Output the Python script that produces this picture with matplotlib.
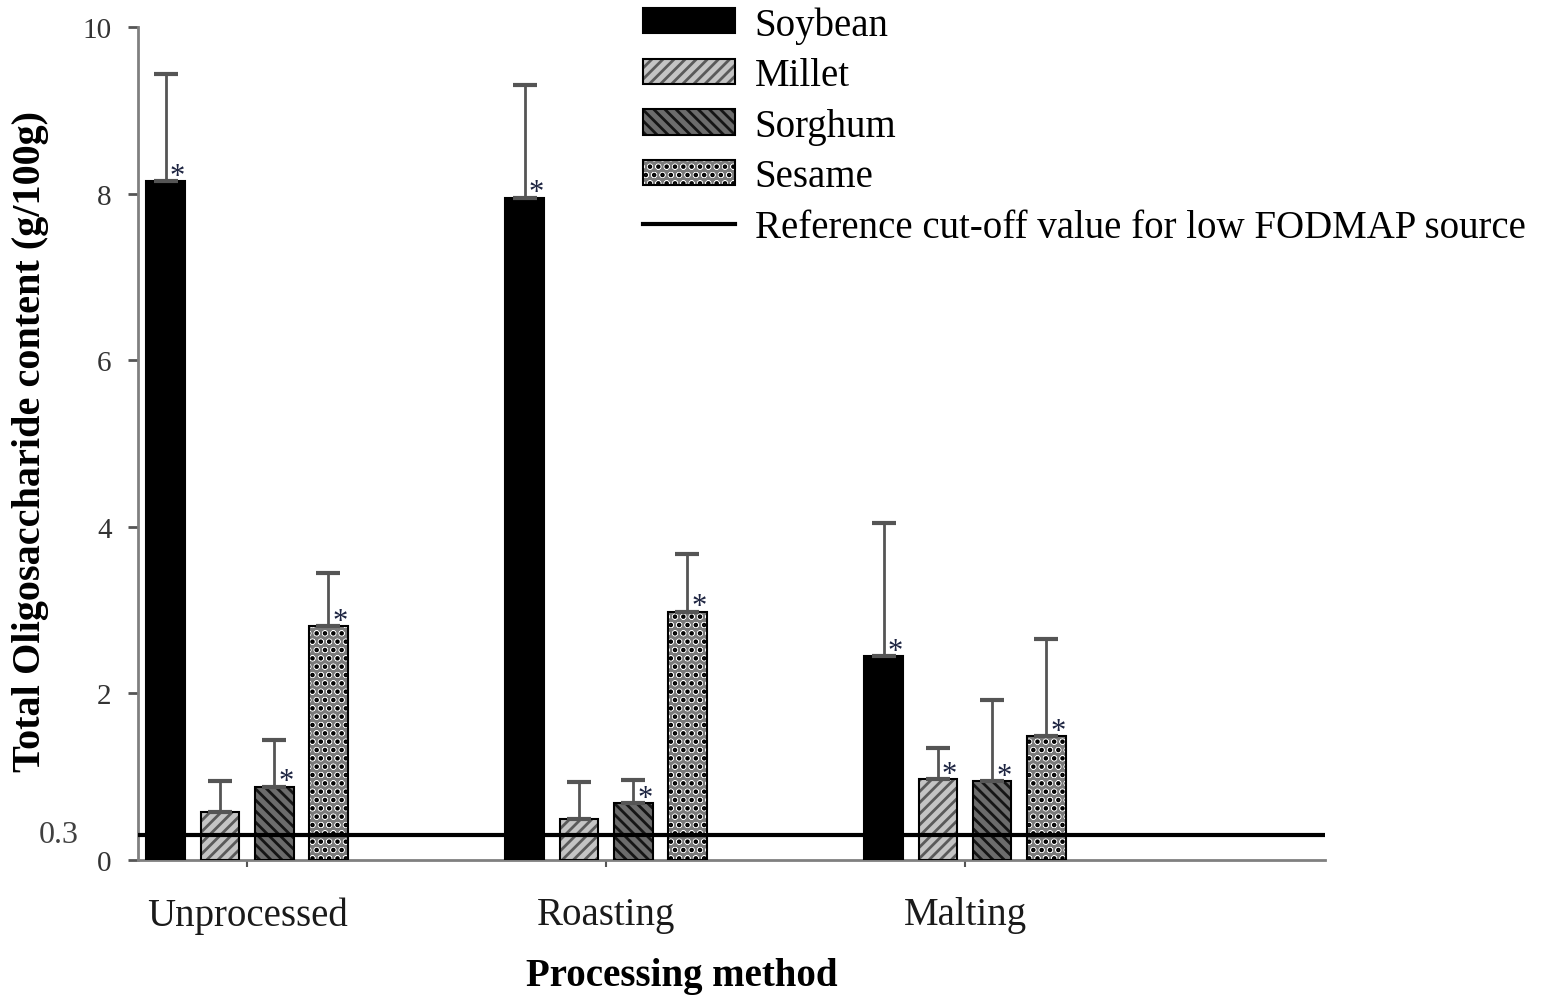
""" Total oligosaccharide content by processing method, grouped bars with a low FODMAP cut-off line. """

import numpy as np
import matplotlib
matplotlib.use("Agg")
import matplotlib.pyplot as plt
from matplotlib.patches import Patch
from matplotlib.lines import Line2D
from matplotlib.legend_handler import HandlerTuple

plt.rcParams['font.family'] = ['Liberation Serif', 'DejaVu Serif']
plt.rcParams['hatch.linewidth'] = 2.0

# Data.
methods = ['Unprocessed', 'Roasting', 'Malting']
crops = ['Soybean', 'Millet', 'Sorghum', 'Sesame']
soybean = [8.15, 7.95, 2.45]
millet = [0.58, 0.49, 0.97]
sorghum = [0.88, 0.68, 0.95]
sesame = [2.81, 2.98, 1.49]
soybean_err = [1.28, 1.35, 1.60]
millet_err = [0.37, 0.45, 0.37]
sorghum_err = [0.56, 0.28, 0.97]
sesame_err = [0.64, 0.69, 1.16]
# Which bars carry an asterisk.
soybean_star = [True, True, True]
millet_star = [False, False, True]
sorghum_star = [True, True, True]
sesame_star = [True, True, True]
cutoff = 0.3
yticks = [0, 2, 4, 6, 8, 10]

values = [soybean, millet, sorghum, sesame]
errors = [soybean_err, millet_err, sorghum_err, sesame_err]
stars = [soybean_star, millet_star, sorghum_star, sesame_star]

# Fill, hatch colour and hatch pattern for each crop.
faces = ['black', '#c4c4c4', '#6c6c6c', '#7a7a7a']
hatch_cols = ['black', '#5a5a5a', '#151515', 'white']
hatches = [None, '///', '\\\\\\', 'oo']
# second dotted layer only used by sesame (black dots between white rings)
dots = [None, None, None, '..']

fig = plt.figure(figsize=(15.47, 10.03), dpi=100)
ax = fig.add_axes([0.0892, 0.1416, 0.7673, 0.8305])

x = np.arange(len(methods))
width = 0.108
step = 0.151

for i in range(len(crops)):
    pos = x + (i - 1.5) * step
    # hatch layer first, then the black outline on top of it
    ax.bar(pos, values[i], width, color=faces[i], edgecolor=hatch_cols[i],
           hatch=hatches[i], linewidth=0, zorder=2)
    if dots[i]:
        ax.bar(pos, values[i], width, facecolor='none', edgecolor='black',
               hatch=dots[i], linewidth=0, zorder=2.5)
    ax.bar(pos, values[i], width, facecolor='none', edgecolor='black',
           linewidth=1.5, zorder=3)
    ax.errorbar(pos, values[i], yerr=[np.zeros(len(methods)), errors[i]],
                fmt='none', ecolor='#555555', elinewidth=2, capsize=8.5,
                capthick=3, zorder=4)
    for j in range(len(methods)):
        if stars[i][j]:
            ax.annotate('*', (pos[j] + width * 0.3, values[i][j]),
                        xytext=(0, -7), textcoords='offset points',
                        ha='center', va='bottom', fontsize=22,
                        color='#1c2340', zorder=5)

# reference cut-off line
ax.axhline(cutoff, color='black', linewidth=3, zorder=5)

ax.set_xlim(-0.304, 3.003)
ax.set_ylim(0, 10)
ax.set_yticks(yticks)
ax.set_yticklabels([str(t) for t in yticks])
ax.set_xticks(x)
ax.set_xticklabels(methods)
ax.text(-0.05, cutoff, '0.3', transform=ax.get_yaxis_transform(),
        ha='right', va='center', fontsize=23, color='#404040')

for side in ['top', 'right']:
    ax.spines[side].set_visible(False)
for side in ['left', 'bottom']:
    ax.spines[side].set_color('#808080')
    ax.spines[side].set_linewidth(2)

ax.tick_params(axis='y', length=7, width=2, color='#555555', pad=12,
               labelsize=21, labelcolor='#333333')
ax.tick_params(axis='x', length=5, width=1.5, color='#555555', pad=21,
               labelsize=28, labelcolor='#1a1a1a')

ax.set_ylabel('Total Oligosaccharide content (g/100g)', fontsize=29,
              fontweight='bold')
ax.yaxis.set_label_coords(-0.075, 0.503)
ax.set_xlabel('Processing method', fontsize=28, fontweight='bold')
ax.xaxis.set_label_coords(0.458, -0.116)

handles = []
for i in range(len(crops)):
    layers = [Patch(facecolor=faces[i], edgecolor=hatch_cols[i],
                    hatch=hatches[i], linewidth=0)]
    if dots[i]:
        layers.append(Patch(facecolor='none', edgecolor='black',
                            hatch=dots[i], linewidth=0))
    layers.append(Patch(facecolor='none', edgecolor='black', linewidth=1.5))
    handles.append(tuple(layers))
handles.append(Line2D([], [], color='black', linewidth=3))
labels = crops + ['Reference cut-off value for low FODMAP source']
fig.legend(handles, labels, loc='upper left', bbox_to_anchor=(0.4156, 0.993),
           frameon=False, fontsize=28, handlelength=2.37, handleheight=0.62,
           handletextpad=0.5, labelspacing=0.35, borderpad=0, borderaxespad=0,
           handler_map={tuple: HandlerTuple(ndivide=1, pad=0)})

fig.savefig('out.png', dpi=100)
